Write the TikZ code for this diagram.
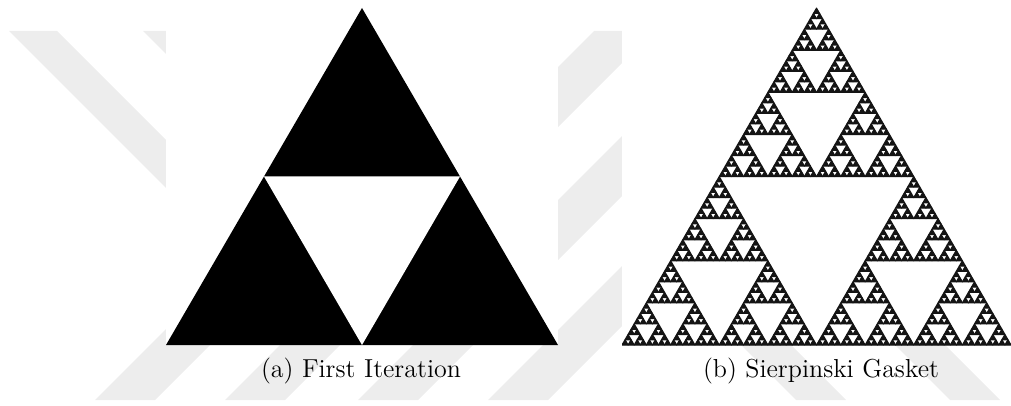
\documentclass[tikz,border=0pt]{standalone}
\usepackage{tikz}
\usetikzlibrary{positioning}

\definecolor{wmark}{gray}{0.93}

% depth, left x, base y, side
\newcommand\gasket[4]{%
  \ifnum#1=0
    \filldraw[black!92, line width=0.55pt, line join=round] (#2,#3) -- ({#2+#4},#3) -- ({#2+#4/2},{#3-0.866*#4}) -- cycle;
  \else
    \begingroup
      \pgfmathtruncatemacro\gd{#1-1}%
      \pgfmathsetmacro\gh{#4/2}%
      \pgfmathsetmacro\gxa{#2+#4/2}%
      \pgfmathsetmacro\gxb{#2+#4/4}%
      \pgfmathsetmacro\gyb{#3-0.433*#4}%
      \edef\gnext{%
        \noexpand\gasket{\gd}{#2}{#3}{\gh}%
        \noexpand\gasket{\gd}{\gxa}{#3}{\gh}%
        \noexpand\gasket{\gd}{\gxb}{\gyb}{\gh}}%
      \gnext
    \endgroup
  \fi}

\begin{document}
\begin{tikzpicture}[
    x=0.5pt, y=-0.5pt,
    stripe/.style={fill=wmark},
    pane/.style={fill=white},
    subcap/.style={font=\fontsize{13}{16}\selectfont, inner sep=0pt},
  ]
    \useasboundingbox (0,0) rectangle (1011,406);

    \begin{scope}
      \clip (0,31) rectangle (1011,400);
      \foreach \a in {495,625,758,888}
        \fill[stripe] (\a-31,31) -- (\a+29,31) -- (\a-340,400) -- (\a-400,400) -- cycle;
      \fill[stripe] (9,31) -- (57,31) -- (226,200) -- (178,200) -- cycle;
      \fill[stripe] (143,31) -- (191,31) -- (240,80) -- (192,80) -- cycle;
      \fill[stripe] (726,330) -- (776,330) -- (846,400) -- (796,400) -- cycle;
      \fill[stripe] (880,330) -- (930,330) -- (1000,400) -- (950,400) -- cycle;
    \end{scope}

    \fill[pane] (166,0) rectangle (558,345);
    \fill[pane] (622,0) rectangle (1011,345);

    \fill[black] (166,345) -- (558,345) -- (362,8) -- cycle;
    \fill[white] (264,176.5) -- (460,176.5) -- (362,345) -- cycle;

    \begin{scope}
      \clip (622,0) rectangle (1011,346);
      \gasket{6}{622}{345}{389}
    \end{scope}

    \node[subcap] (capa) at (361,371) {(a) First Iteration};
    \node[subcap] (capb) at (821,371) {(b) Sierpinski Gasket};
  \end{tikzpicture}
\end{document}
